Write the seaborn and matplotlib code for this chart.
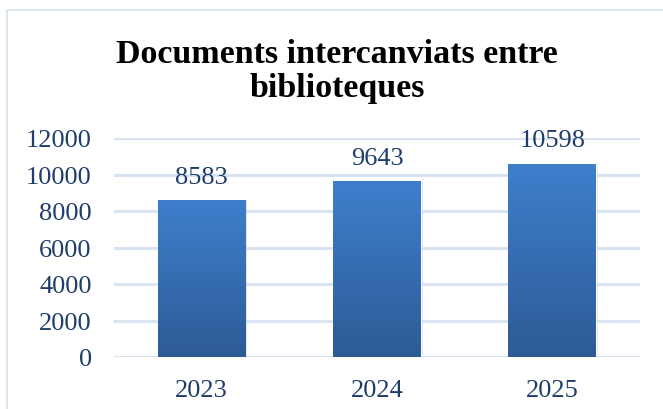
import numpy as np
import pandas as pd
import matplotlib
matplotlib.use("Agg")
import matplotlib.pyplot as plt
from matplotlib.patches import Rectangle
import seaborn as sns

# data
years = ["2023", "2024", "2025"]
documents = [8583, 9643, 10598]
yticks = [0, 2000, 4000, 6000, 8000, 10000, 12000]

df = pd.DataFrame({"Any": years, "Documents": documents})

sns.set_theme(style="white")
plt.rcParams["font.family"] = ["Liberation Serif", "DejaVu Serif"]

text_blue = "#1F3D6B"
grid_col = "#D9E3F1"

fig = plt.figure(figsize=(6.63, 4.10), dpi=100)
ax = fig.add_axes([114 / 663, (410 - 358) / 410, 526 / 663, 219 / 410])

sns.barplot(data=df, x="Any", y="Documents", ax=ax, width=0.5,
            color="#3A75C0", saturation=1, zorder=3)

ax.set_ylim(0, 12000)
ax.set_yticks(yticks)
ax.set_yticklabels([str(t) for t in yticks])
ax.set_xlabel("")
ax.set_ylabel("")
for s in ax.spines.values():
    s.set_visible(False)
ax.grid(axis="y", color=grid_col, linewidth=2.2, zorder=0)
ax.grid(axis="x", visible=False)
ax.tick_params(axis="y", length=0, pad=16, labelsize=19, labelcolor=text_blue)
ax.tick_params(axis="x", length=0, pad=16, labelsize=19, labelcolor=text_blue)

# gradient fill inside bars
grad = np.linspace(0, 1, 256).reshape(-1, 1)
cmap = matplotlib.colors.LinearSegmentedColormap.from_list("g", ["#2D5B96", "#3E7FCC"])
for bar, val in zip(ax.patches, documents):
    x0, w = bar.get_x(), bar.get_width()
    h = bar.get_height()
    # soft shadow
    ax.add_patch(Rectangle((x0 + 0.01, -60), w, h, color="#B8C2CF", alpha=0.5, zorder=2.5, lw=0))
    im = ax.imshow(grad, cmap=cmap, aspect="auto", extent=[x0, x0 + w, 0, h],
                   origin="lower", zorder=4)
    im.set_clip_path(bar)
    ax.annotate(f"{val}", (x0 + w / 2, h), xytext=(0, 9), textcoords="offset points",
                ha="center", va="bottom", fontsize=19, color=text_blue)
ax.set_xlim(-0.5, 2.5)
ax.set_ylim(0, 12000)

fig.suptitle("Documents intercanviats entre\nbiblioteques", x=337 / 663, y=1 - 39 / 410,
             fontsize=24.5, fontweight="bold", color="black", linespacing=1.12)

# chart frame
fig.add_artist(Rectangle((7 / 663, -0.1), 1.2, (410 - 11) / 410 + 0.1,
                         transform=fig.transFigure, fill=False,
                         edgecolor="#D6E0EE", linewidth=1.2))

fig.savefig("out.png", dpi=100)
